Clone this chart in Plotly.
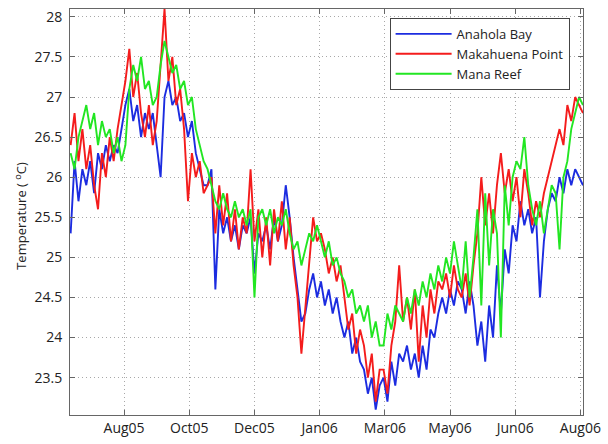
import pandas as pd
import plotly.graph_objects as go

# ---- data ----
START_DATE = "2005-07-16"
STEP_DAYS = 3

anahola_bay = [
    25.3, 26.2, 25.7, 26.1, 25.9, 26.2, 25.8, 26.3, 26.1, 26.4,
    26.2, 26.4, 26.3, 26.6, 26.9, 27.1, 26.7, 26.9, 26.5, 26.8,
    26.6, 26.8, 26.4, 26.0, 27.0, 27.2, 26.9, 27.0, 26.7, 26.8,
    26.5, 26.7, 26.3, 26.1, 25.9, 25.9, 26.1, 24.6, 25.6, 25.3,
    25.5, 25.2, 25.4, 25.1, 25.4, 25.3, 25.5, 24.8, 25.3, 25.2,
    25.4, 25.1, 25.5, 25.2, 25.4, 25.9, 25.5, 25.0, 24.6, 24.2,
    24.3, 24.6, 24.8, 24.5, 24.7, 24.4, 24.6, 24.3, 24.5, 24.2,
    24.0, 24.2, 23.8, 24.0, 23.7, 23.6, 23.3, 23.5, 23.1, 23.4,
    23.5, 23.2, 23.7, 23.4, 23.8, 23.7, 23.9, 23.6, 23.8, 23.5,
    23.9, 23.6, 24.1, 24.0, 24.3, 24.5, 24.3, 24.6, 24.4, 24.7,
    24.6, 24.3, 24.7, 24.4, 23.9, 24.2, 23.7, 24.4, 24.0, 24.9,
    24.3, 25.1, 24.8, 25.4, 25.2, 25.7, 25.4, 25.6, 25.3, 25.5,
    24.5, 25.2, 25.6, 25.8, 25.7, 26.0, 25.8, 26.1, 25.9, 26.1,
    26.0, 25.9,
]

makahuena_point = [
    26.4, 26.8, 26.2, 26.6, 26.1, 26.4, 25.9, 25.6, 26.3, 26.0,
    26.5, 26.2, 26.6, 26.9, 27.2, 27.6, 27.0, 27.3, 26.8, 26.5,
    26.9, 26.4, 26.7, 27.4, 28.1, 27.2, 27.5, 26.9, 27.1, 26.6,
    25.7, 26.3, 26.0, 26.2, 25.8, 25.9, 26.0, 25.3, 25.9, 25.4,
    25.8, 25.2, 25.6, 25.1, 25.5, 25.3, 26.1, 25.2, 25.6, 25.0,
    25.5, 24.9, 25.6, 25.2, 25.7, 25.1, 25.5, 24.9, 24.5, 23.8,
    24.4, 25.0, 25.5, 25.2, 25.3, 25.1, 24.8, 25.0, 24.7, 24.9,
    24.5, 24.1, 24.3, 23.8, 24.1, 23.9, 23.5, 23.8, 23.2, 23.6,
    23.6, 23.3, 23.9, 24.2, 24.9, 24.2, 24.5, 24.1, 24.6, 23.7,
    24.4, 24.0, 24.6, 24.3, 24.7, 24.6, 24.8, 24.5, 24.9, 24.6,
    24.5, 24.8, 24.4, 24.9, 25.3, 26.0, 25.4, 25.8, 25.3, 25.9,
    26.3, 25.8, 26.1, 25.7, 26.0, 25.5, 26.1, 25.8, 25.4, 25.7,
    25.5, 25.8, 26.0, 26.2, 26.4, 26.6, 26.4, 26.9, 26.7, 27.0,
    26.9, 26.8,
]

mana_reef = [
    26.3, 26.1, 26.5, 26.7, 26.9, 26.6, 26.8, 26.4, 26.7, 26.5,
    26.6, 26.3, 26.5, 26.2, 26.4, 27.1, 27.4, 27.2, 27.5, 27.1,
    27.2, 26.9, 27.0, 27.4, 27.7, 27.5, 27.3, 27.4, 27.1, 27.2,
    26.9, 27.0, 26.6, 26.4, 26.2, 26.1, 25.9, 25.7, 25.6, 25.8,
    25.6, 25.5, 25.7, 25.5, 25.6, 25.4, 25.6, 24.5, 25.5, 25.6,
    25.4, 25.6, 25.3, 25.5, 25.4, 25.6, 25.3, 25.1, 25.2, 24.9,
    25.1, 25.3, 25.2, 25.4, 25.2, 25.0, 25.2, 24.9, 25.0, 24.8,
    24.7, 24.5, 24.6, 24.3, 24.4, 24.2, 24.4, 24.0, 24.2, 23.9,
    23.9, 24.3, 24.1, 24.4, 24.3, 24.2, 24.5, 24.3, 24.6, 24.4,
    24.7, 24.5, 24.8, 24.6, 24.9, 24.7, 25.0, 24.8, 25.2, 24.9,
    24.6, 25.2, 24.5, 25.0, 25.6, 24.4, 25.8, 24.9, 25.6, 25.3,
    24.0, 25.9, 25.4, 26.0, 26.2, 26.1, 26.5, 25.9, 25.6, 25.4,
    25.7, 25.3, 25.6, 25.9, 25.8, 25.1, 26.0, 26.2, 26.6, 26.8,
    27.0, 26.9,
]

series_names = ["Anahola Bay", "Makahuena Point", "Mana Reef"]
series_colors = ["#1c2ce0", "#f41c1c", "#22e622"]

tick_dates = ["2005-08-26", "2005-10-15", "2005-12-04", "2006-01-23",
              "2006-03-14", "2006-05-03", "2006-06-22", "2006-08-11"]
tick_labels = ["Aug05", "Oct05", "Dec05", "Jan06", "Mar06", "May06", "Jun06", "Aug06"]
y_ticks = [23.5, 24, 24.5, 25, 25.5, 26, 26.5, 27, 27.5, 28]

dates = pd.date_range(START_DATE, periods=len(mana_reef), freq=f"{STEP_DAYS}D")

fig = go.Figure()
for name, vals, col in zip(series_names, [anahola_bay, makahuena_point, mana_reef], series_colors):
    fig.add_trace(go.Scatter(x=dates, y=vals, mode="lines", name=name,
                             line=dict(color=col, width=1.9)))

axis_common = dict(
    showline=True, linecolor="#666666", linewidth=1, mirror="ticks",
    ticks="inside", ticklen=5, tickcolor="#666666",
    showgrid=True, gridcolor="#a8a8a8", griddash="1px,3px", gridwidth=1,
    zeroline=False,
    tickfont=dict(family="Open Sans", size=14, color="#222222"),
)

fig.update_layout(
    width=608, height=444,
    margin=dict(l=70, r=17.5, t=7, b=24),
    paper_bgcolor="white", plot_bgcolor="white",
    showlegend=True,
    legend=dict(x=0.623, y=0.978, xanchor="left", yanchor="top",
                bgcolor="white", bordercolor="#444444", borderwidth=1,
                itemwidth=56,
                font=dict(family="Open Sans", size=13, color="#222222"),
                tracegroupgap=0),
    xaxis=dict(type="date", range=["2005-07-15 12:00", "2006-08-13"],
               tickmode="array", tickvals=tick_dates, ticktext=tick_labels,
               **axis_common),
    yaxis=dict(range=[23.034, 28.098], tickmode="array", tickvals=y_ticks,
               ticklabelstandoff=4, **axis_common),
    annotations=[dict(text="Temperature ( <sup>o</sup>C)", textangle=-90,
                      xref="paper", yref="paper", x=-0.098, y=0.49,
                      xanchor="center", yanchor="middle", showarrow=False,
                      font=dict(family="Open Sans", size=13, color="#222222"))],
)

fig.write_html("out.html")
